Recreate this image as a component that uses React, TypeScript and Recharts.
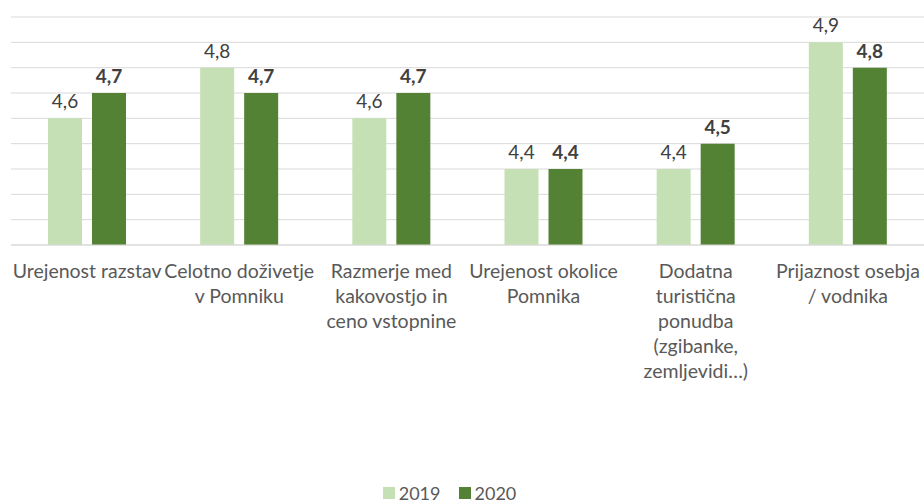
import React from 'react';
import { BarChart, Bar, XAxis, YAxis, CartesianGrid, Legend, LabelList } from 'recharts';

// Kategorije (z ročnimi prelomi vrstic kot v izvirniku)
const categories = [
  'Urejenost razstav',
  'Celotno doživetje\nv Pomniku',
  'Razmerje med\nkakovostjo in\nceno vstopnine',
  'Urejenost okolice\nPomnika',
  'Dodatna\nturistična\nponudba\n(zgibanke,\nzemljevidi…)',
  'Prijaznost osebja\n/ vodnika',
];
const values2019 = [4.6, 4.8, 4.6, 4.4, 4.4, 4.9];
const values2020 = [4.7, 4.7, 4.7, 4.4, 4.5, 4.8];
const yTicks = [4.1, 4.2, 4.3, 4.4, 4.5, 4.6, 4.7, 4.8, 4.9, 5.0];

const FONT = 'Lato, "Open Sans", sans-serif';
const LIGHT = '#C5E0B4';
const DARK = '#548235';

const data = categories.map((name, i) => ({
  name,
  y2019: values2019[i],
  y2020: values2020[i],
}));

const fmt = (v: any) => String(v).replace('.', ',');

function CategoryTick(props: any) {
  const { x, y, payload } = props;
  const lines = String(payload.value).split('\n');
  return (
    <text x={x} y={y} textAnchor="middle" fill="#595959" fontSize={19.5} fontFamily={FONT}>
      {lines.map((l, i) => (
        <tspan key={i} x={x} dy={25}>{l}</tspan>
      ))}
    </text>
  );
}

function LegendContent() {
  const items = [
    { label: '2019', color: LIGHT },
    { label: '2020', color: DARK },
  ];
  return (
    <div style={{ display: 'flex', justifyContent: 'center', gap: 18, fontFamily: FONT, fontSize: 18, lineHeight: '20px', color: '#595959', marginLeft: -36, paddingTop: 3 }}>
      {items.map((it) => (
        <div key={it.label} style={{ display: 'flex', alignItems: 'center', gap: 4 }}>
          <span style={{ display: 'inline-block', width: 12, height: 12, background: it.color }} />
          <span>{it.label}</span>
        </div>
      ))}
    </div>
  );
}

export default function App() {
  return (
    <div style={{ position: 'absolute', left: 0, top: 0, width: 924, height: 504, background: '#fff' }}>
      <BarChart
        width={924}
        height={504}
        data={data}
        margin={{ top: 17, right: 0, left: 11, bottom: 0 }}
        barGap={10}
        barSize={34}
      >
        <CartesianGrid vertical={false} stroke="#D9D9D9" strokeWidth={1} />
        <XAxis
          dataKey="name"
          axisLine={{ stroke: '#D9D9D9' }}
          tickLine={false}
          interval={0}
          height={235}
          tick={<CategoryTick />}
        />
        <YAxis hide domain={[4.1, 5.0]} ticks={yTicks} allowDataOverflow />
        <Legend verticalAlign="bottom" height={24} content={<LegendContent />} />
        <Bar dataKey="y2019" name="2019" fill={LIGHT} isAnimationActive={false}>
          <LabelList dataKey="y2019" position="top" offset={10} formatter={fmt} fill="#404040" fontSize={19} fontFamily={FONT} />
        </Bar>
        <Bar dataKey="y2020" name="2020" fill={DARK} isAnimationActive={false}>
          <LabelList dataKey="y2020" position="top" offset={10} formatter={fmt} fill="#404040" fontSize={19} fontWeight="bold" fontFamily={FONT} />
        </Bar>
      </BarChart>
    </div>
  );
}
